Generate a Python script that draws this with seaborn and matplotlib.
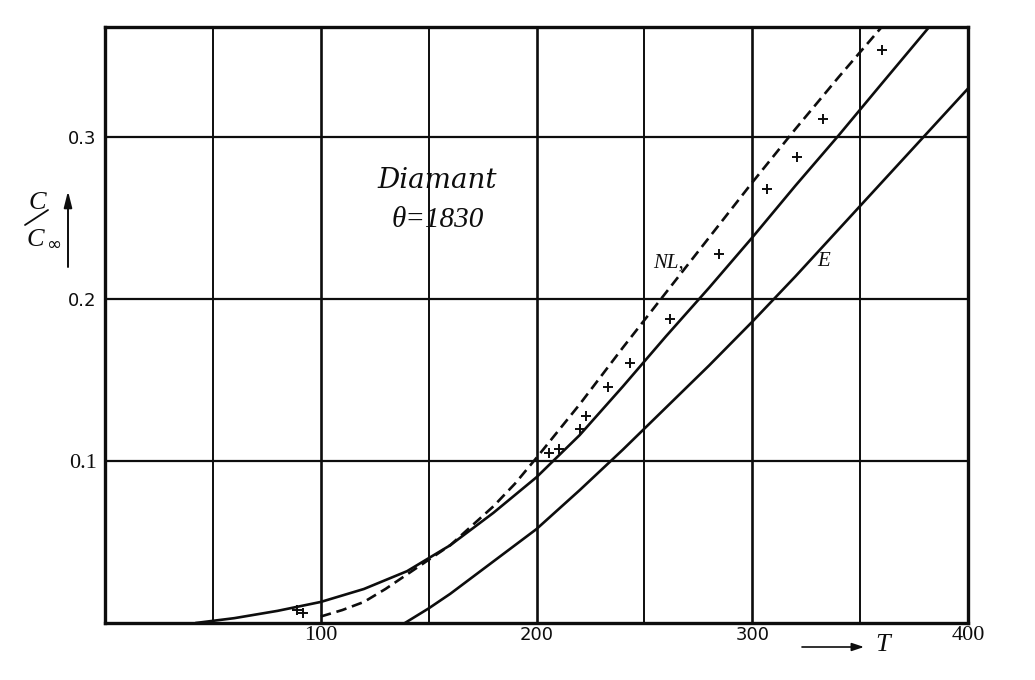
import numpy as np
import pandas as pd
import matplotlib
matplotlib.use("Agg")
import matplotlib.pyplot as plt
from matplotlib.lines import Line2D
import seaborn as sns

# ---- curve and measurement values (T in K, C / C_inf) ----
nl_T = [100, 110, 120, 130, 140, 150, 160, 170, 180, 190, 200, 220, 240,
        260, 280, 300, 320, 340, 360]
nl_C = [0.004, 0.008, 0.013, 0.021, 0.030, 0.039, 0.048, 0.060, 0.072,
        0.086, 0.102, 0.135, 0.170, 0.204, 0.238, 0.272, 0.305, 0.337, 0.368]

mid_T = [42, 60, 80, 100, 120, 140, 160, 180, 200, 220, 240, 260, 280,
         300, 320, 340, 360, 382]
mid_C = [0.0, 0.003, 0.0075, 0.013, 0.021, 0.032, 0.048, 0.068, 0.090,
         0.116, 0.146, 0.177, 0.207, 0.238, 0.270, 0.301, 0.333, 0.368]

e_T = [139, 150, 160, 170, 180, 190, 200, 210, 220, 240, 260, 280, 300,
       320, 340, 360, 380, 400]
e_C = [0.0, 0.009, 0.018, 0.028, 0.038, 0.048, 0.058, 0.070, 0.082, 0.107,
       0.133, 0.159, 0.186, 0.214, 0.243, 0.272, 0.301, 0.330]

obs_T = [89, 92, 206, 210.6, 220, 223, 233, 243.5, 262, 284.4, 307,
         320.7, 333, 360]
obs_C = [0.008, 0.006, 0.105, 0.1074, 0.120, 0.128, 0.1455, 0.1607, 0.188,
         0.228, 0.2677, 0.288, 0.3115, 0.354]

x_major = [100, 200, 300, 400]
x_minor = [50, 150, 250, 350]
x_labels = ["100", "200", "300", "400"]
x_label_fonts = ["Liberation Serif", "DejaVu Sans", "DejaVu Sans", "Liberation Serif"]
y_major = [0.1, 0.2, 0.3]
y_labels = ["0.1", "0.2", "0.3"]
y_label_fonts = ["Liberation Serif", "DejaVu Sans", "DejaVu Sans"]

W, H = 1035, 680


def fig_xy(x, y):
    """Pixel position (from top-left) -> figure fraction."""
    return (x / W, 1 - y / H)


sns.set_theme(style="white")
plt.rcParams["font.family"] = ["DejaVu Sans"]

fig = plt.figure(figsize=(W / 100, H / 100), dpi=100)
ax = fig.add_axes([105 / W, 1 - 623 / H, (968 - 105) / W, (623 - 27) / H])

ink = "#0d0d0d"
curve_lw = 1.9

sns.lineplot(x=nl_T, y=nl_C, ax=ax, color=ink, lw=curve_lw,
             linestyle=(0, (4.0, 2.2)), sort=False, estimator=None)
sns.lineplot(x=mid_T, y=mid_C, ax=ax, color=ink, lw=curve_lw, sort=False,
             estimator=None)
sns.lineplot(x=e_T, y=e_C, ax=ax, color=ink, lw=curve_lw, sort=False,
             estimator=None)
sns.scatterplot(x=obs_T, y=obs_C, ax=ax, marker="+", s=55, color=ink,
                linewidth=1.4, zorder=5)

ax.set_xlim(0, 400)
ax.set_ylim(0, 0.368)
ax.set_xticks(x_major, x_labels)
ax.set_xticks(x_minor, minor=True)
ax.set_yticks(y_major, y_labels)
ax.tick_params(which="both", length=0)
ax.tick_params(axis="x", pad=2)
ax.tick_params(axis="y", pad=6)
for lab, fam in zip(ax.get_xticklabels(), x_label_fonts):
    lab.set_fontfamily(fam)
    lab.set_fontsize(16 if fam == "Liberation Serif" else 13)
    lab.set_color(ink)
for lab, fam in zip(ax.get_yticklabels(), y_label_fonts):
    lab.set_fontfamily(fam)
    lab.set_fontsize(16 if fam == "Liberation Serif" else 13)
    lab.set_color(ink)

ax.set_axisbelow(True)
ax.grid(which="major", axis="x", color=ink, lw=1.9)
ax.grid(which="minor", axis="x", color=ink, lw=1.4)
ax.grid(which="major", axis="y", color=ink, lw=1.6)
for sp in ax.spines.values():
    sp.set_visible(True)
    sp.set_color(ink)
    sp.set_linewidth(2.4)
ax.set_xlabel("")
ax.set_ylabel("")

# annotations inside the plot
ax.text(154, 0.273, "Diamant", fontfamily="DejaVu Serif", fontstyle="italic",
        fontsize=20, ha="center", va="center", color=ink)
ax.text(154.4, 0.249, "θ=1830", fontfamily="Liberation Serif",
        fontstyle="italic", fontsize=21, ha="center", va="center", color=ink)
ax.text(261, 0.222, "NL,", fontfamily="Liberation Serif", fontstyle="italic",
        fontsize=15, ha="center", va="center", color=ink)
ax.text(333, 0.223, "E", fontfamily="Liberation Serif", fontstyle="italic",
        fontsize=15, ha="center", va="center", color=ink)

# x axis title: arrow and T
ax.annotate("", xy=fig_xy(864, 647), xytext=fig_xy(802, 647),
            xycoords="figure fraction", textcoords="figure fraction",
            arrowprops=dict(arrowstyle="-|>,head_length=0.6,head_width=0.2",
                            color=ink, lw=1.2, mutation_scale=12,
                            shrinkA=0, shrinkB=0))
fig.text(*fig_xy(883, 645), "T", fontfamily="Liberation Serif",
         fontstyle="italic", fontsize=19, ha="center", va="center", color=ink)

# y axis title: C / C_inf with an upward arrow
fig.text(*fig_xy(37, 203), "C", fontfamily="Liberation Serif",
         fontstyle="italic", fontsize=19, ha="center", va="center", color=ink)
fig.text(*fig_xy(35, 240), "C", fontfamily="Liberation Serif",
         fontstyle="italic", fontsize=19, ha="center", va="center", color=ink)
fig.text(*fig_xy(54, 245), "∞", fontfamily="DejaVu Sans", fontsize=13,
         ha="center", va="center", color=ink)
x0, y0 = fig_xy(25, 225)
x1, y1 = fig_xy(48, 210)
fig.add_artist(Line2D([x0, x1], [y0, y1], transform=fig.transFigure,
                      color=ink, lw=1.3))
ax.annotate("", xy=fig_xy(68, 191), xytext=fig_xy(68, 267),
            xycoords="figure fraction", textcoords="figure fraction",
            arrowprops=dict(arrowstyle="-|>,head_length=0.8,head_width=0.2",
                            color=ink, lw=1.4, mutation_scale=12,
                            shrinkA=0, shrinkB=0))

fig.savefig("out.png", dpi=100, facecolor="white")
